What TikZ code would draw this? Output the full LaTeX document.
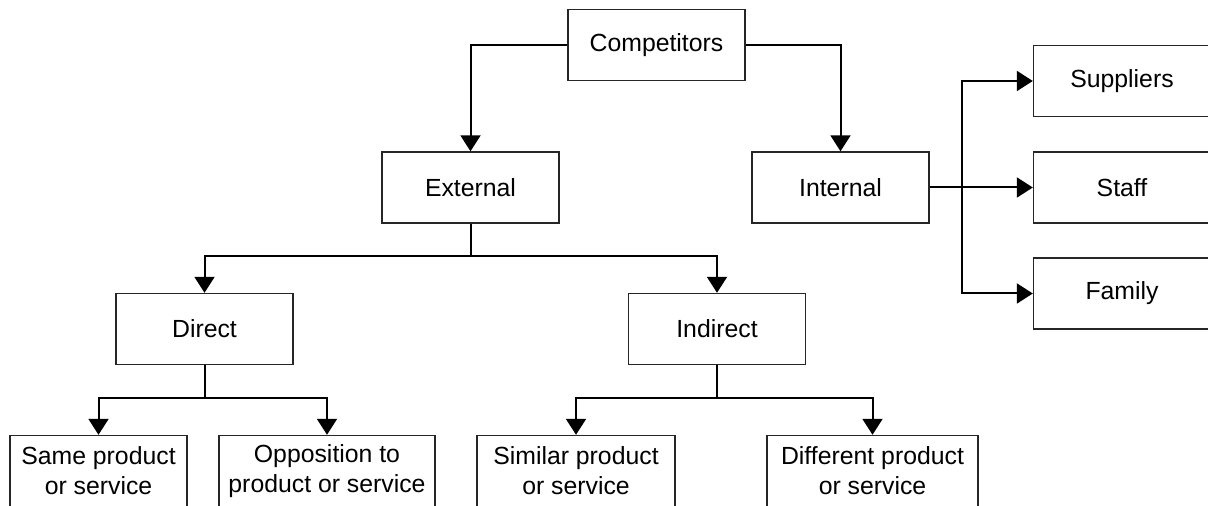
\documentclass[tikz,border=0pt]{standalone}
\usepackage{fontspec}
\setmainfont{Liberation Sans}
\usepackage{tikz}
\usetikzlibrary{arrows.meta}

\begin{document}
\begin{tikzpicture}[x=0.5pt, y=-0.5pt, font=\fontsize{12.4}{15}\selectfont,
    box/.style={draw=black!85, line width=0.7pt, minimum width=88.5pt, minimum height=35.5pt, align=center, inner sep=0pt},
    link/.style={line width=1pt, -{Triangle[width=10pt, length=8pt]}}]
  \clip (0,0) rectangle (1208,506);
  % top levels
  \node[box] (comp) at (656.5,45) {Competitors};
  \node[box] (ext) at (470.5,187.5) {External};
  \node[box] (int) at (840.5,187.5) {Internal};
  \node[box] (sup) at (1122,81) {Suppliers};
  \node[box] (staff) at (1122,187.5) {Staff};
  \node[box] (fam) at (1122,293.5) {Family};
  \node[box] (dir) at (204.5,329) {Direct};
  \node[box] (ind) at (717,329) {Indirect};
  % bottom row
  \node[box] (same) at (98.5,471) {Same product\\or service};
  \node[box, minimum width=108pt] (opp) at (327,471) {Opposition to\\product or service};
  \node[box, minimum width=99pt] (sim) at (576,471) {Similar product\\or service};
  \node[box, minimum width=105.5pt] (diff) at (872.5,471) {Different product\\or service};
  \coordinate (extbus) at (470.5,256);
  \coordinate (dirbus) at (204.5,398);
  \coordinate (indbus) at (717,398);
  \coordinate (intbus) at (962,187.5);

  \draw[link] (comp.west) -| (ext.north);
  \draw[link] (comp.east) -| (int.north);
  \draw[link] (int.east) -- (staff.west);
  \draw[link] (intbus) |- (sup.west);
  \draw[link] (intbus) |- (fam.west);
  \draw[link] (ext.south) -- (extbus) -| (dir.north);
  \draw[link] (extbus) -| (ind.north);
  \draw[link] (dir.south) -- (dirbus) -| (same.north);
  \draw[link] (dirbus) -| (opp.north);
  \draw[link] (ind.south) -- (indbus) -| (sim.north);
  \draw[link] (indbus) -| (diff.north);
\end{tikzpicture}
\end{document}
